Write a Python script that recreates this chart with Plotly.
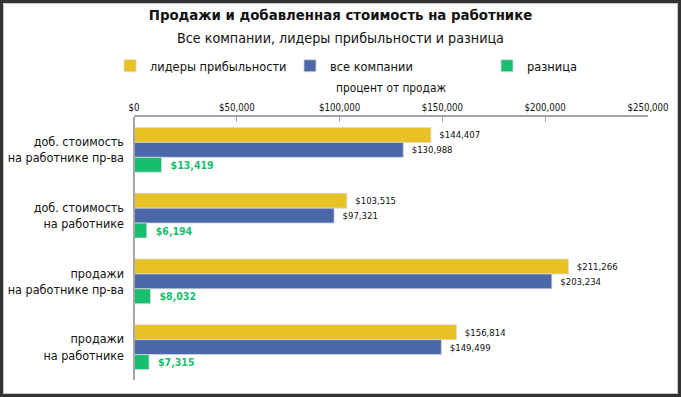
import plotly.graph_objects as go

categories = ["доб. стоимость<br>на работнике пр-ва", "доб. стоимость<br>на работнике",
              "продажи<br>на работнике пр-ва", "продажи<br>на работнике"]
leaders = [144407, 103515, 211266, 156814]
all_companies = [130988, 97321, 203234, 149499]
difference = [13419, 6194, 8032, 7315]
series_names = ["лидеры прибыльности", "все компании", "разница"]
x_ticks = [0, 50000, 100000, 150000, 200000, 250000]
title_text = "Продажи и добавленная стоимость на работнике"
subtitle_text = "Все компании, лидеры прибыльности и разница"
axis_title = "процент от продаж"

FONT = "Liberation Sans Narrow, DejaVu Sans Condensed, Arial Narrow, sans-serif"
YEL, BLU, GRN = "#E8C125", "#4A67A8", "#17BE6E"
DARK = "#111111"

W, H = 681, 397
ML, MR, MT, MB = 134, 33, 117, 17
PW, PH = W - ML - MR, H - MT - MB

def px(xp):
    return (xp - ML) / PW

def py(yp):
    return (H - MB - yp) / PH

fig = go.Figure()
fig.add_trace(go.Bar(y=categories, x=leaders, orientation="h", name=series_names[0],
                     marker=dict(color=YEL, line=dict(color="#d8d8d8", width=0.8)),
                     texttemplate="  $%{x:,}", textposition="outside",
                     textfont=dict(size=9.5, color=DARK), cliponaxis=False, legend="legend"))
fig.add_trace(go.Bar(y=categories, x=all_companies, orientation="h", name=series_names[1],
                     marker=dict(color=BLU, line=dict(color="#d8d8d8", width=0.8)),
                     texttemplate="  $%{x:,}", textposition="outside",
                     textfont=dict(size=9.5, color=DARK), cliponaxis=False, legend="legend2"))
fig.add_trace(go.Bar(y=categories, x=difference, orientation="h", name=series_names[2],
                     marker=dict(color=GRN, line=dict(color="#d8d8d8", width=0.8)),
                     texttemplate="  <b>$%{x:,}</b>", textposition="outside",
                     textfont=dict(size=10.5, color=GRN), cliponaxis=False, legend="legend3"))

leg_common = dict(orientation="h", yanchor="middle", y=py(66), xanchor="left",
                  font=dict(family=FONT, size=12.7, color=DARK),
                  bgcolor="rgba(0,0,0,0)", itemwidth=30)

fig.update_layout(
    template="none",
    width=W, height=H,
    margin=dict(l=ML, r=MR, t=MT, b=MB, autoexpand=False),
    paper_bgcolor="white", plot_bgcolor="white",
    font=dict(family=FONT, color=DARK),
    barmode="group", bargap=0.32, bargroupgap=0.0,
    showlegend=True,
    legend=dict(leg_common, x=px(110)),
    legend2=dict(leg_common, x=px(290)),
    legend3=dict(leg_common, x=px(487)),
    title=dict(text="<b>" + title_text + "</b>",
               x=0.5, xanchor="center", y=1 - 10 / H, yanchor="top",
               font=dict(family=FONT, size=14.8, color=DARK)),
    annotations=[dict(text=subtitle_text, xref="paper", yref="paper",
                      x=px(W / 2), y=py(38), xanchor="center", yanchor="middle",
                      showarrow=False, font=dict(family=FONT, size=14.2, color=DARK))],
    xaxis=dict(side="top", range=[0, 250000], tickvals=x_ticks, tickformat="$,",
               showgrid=False, zeroline=False, showline=True, linecolor="#a6a6a6", linewidth=2,
               ticks="inside", ticklen=5, tickcolor="#a6a6a6", tickwidth=1, automargin=False,
               tickfont=dict(family=FONT, size=9.6, color=DARK),
               title=dict(text=axis_title, standoff=7,
                          font=dict(family=FONT, size=11.8, color=DARK))),
    yaxis=dict(autorange="reversed", showgrid=False, zeroline=False, showline=False,
               ticks="", ticklabelstandoff=9, automargin=False,
               tickfont=dict(family=FONT, size=12.5, color=DARK)),
    shapes=[
        dict(type="line", xref="paper", yref="paper", x0=0, x1=0, y0=0, y1=1,
             line=dict(color="#a6a6a6", width=2)),
        dict(type="rect", xref="paper", yref="paper",
             x0=px(1.5), x1=px(W - 1.5), y0=py(H - 1.5), y1=py(1.5),
             line=dict(color="#333333", width=3), layer="above"),
        dict(type="rect", xref="paper", yref="paper",
             x0=px(3.5), x1=px(W - 3.5), y0=py(H - 3.5), y1=py(3.5),
             line=dict(color="#c8c8c8", width=1), layer="above"),
    ],
)

fig.write_html("out.html", config={"displayModeBar": False},
               post_script="document.body.style.margin='0';")
